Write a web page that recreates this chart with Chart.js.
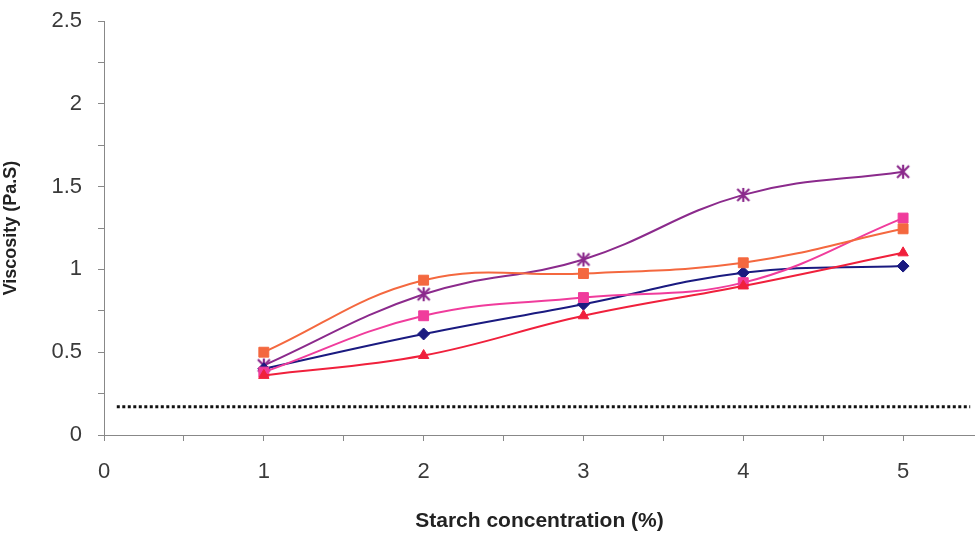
<!DOCTYPE html>
<html>
<head>
<meta charset="utf-8">
<script src="https://cdn.jsdelivr.net/npm/chart.js@4/dist/chart.umd.min.js"></script>
<style>
  html, body { margin: 0; padding: 0; background: #fff; }
  #wrap { width: 975px; height: 534px; }
</style>
</head>
<body>
<div id="wrap"><canvas id="grafica" width="975" height="534"></canvas></div>
<script>
// starch concentration (%)
const concentracion = [1, 2, 3, 4, 5];

// viscosity (Pa.S) for each series
const serieRombo = [0.40, 0.61, 0.79, 0.98, 1.02];
const serieCuadradoNaranja = [0.50, 0.935, 0.975, 1.04, 1.245];
const serieCuadradoRosa = [0.38, 0.72, 0.83, 0.92, 1.31];
const serieTriangulo = [0.36, 0.48, 0.72, 0.90, 1.10];
const serieEstrella = [0.42, 0.85, 1.06, 1.45, 1.59];

// dotted reference line
const referenciaX = [0.08, 5.42];
const referenciaY = [0.17, 0.17];

function aPuntos(xs, ys) {
    return xs.map((x, i) => ({ x: x, y: ys[i] }));
}

// asterisk marker like the spreadsheet one (X plus vertical bar)
function crearEstrella(color) {
    const c = document.createElement('canvas');
    c.width = 16;
    c.height = 16;
    const g = c.getContext('2d');
    g.strokeStyle = color;
    g.lineWidth = 2.2;
    g.beginPath();
    g.moveTo(2, 2); g.lineTo(14, 14);
    g.moveTo(14, 2); g.lineTo(2, 14);
    g.moveTo(8, 1); g.lineTo(8, 15);
    g.stroke();
    return c;
}

function serie(label, datos, color, estilo, radio) {
    return {
        label: label,
        data: aPuntos(concentracion, datos),
        borderColor: color,
        backgroundColor: color,
        borderWidth: 2,
        pointStyle: estilo,
        pointRadius: radio,
        pointBorderWidth: 1,
        tension: 0.4,
        fill: false
    };
}

const fuente = "'Liberation Sans', Arial, sans-serif";

new Chart(document.getElementById('grafica').getContext('2d'), {
    type: 'line',
    data: {
        datasets: [
            {
                label: 'Reference',
                data: aPuntos(referenciaX, referenciaY),
                borderColor: '#111',
                borderWidth: 3,
                borderDash: [3, 2.5],
                pointRadius: 0,
                fill: false
            },
            serie('Series 5', serieTriangulo, '#f0203c', 'triangle', 6),
            serie('Series 2', serieCuadradoNaranja, '#f4683f', 'rect', 7),
            serie('Series 3', serieCuadradoRosa, '#f03c9c', 'rect', 7),
            serie('Series 1', serieRombo, '#1a1a80', 'rectRot', 6),
            serie('Series 4', serieEstrella, '#8b2a8c', crearEstrella('#8b2a8c'), 8)
        ]
    },
    options: {
        responsive: false,
        animation: false,
        layout: { autoPadding: false, padding: { top: 21, right: 0, left: 0, bottom: 0 } },
        plugins: {
            legend: { display: false },
            tooltip: { enabled: false }
        },
        scales: {
            x: {
                type: 'linear',
                min: 0,
                max: 5.45,
                afterFit: function (scale) {
                    scale.height = 99;
                    scale.paddingLeft = 0;
                    scale.paddingRight = 0;
                },
                border: { color: '#888', width: 1 },
                grid: {
                    drawOnChartArea: false,
                    drawTicks: true,
                    tickLength: 6,
                    color: '#888'
                },
                ticks: {
                    stepSize: 0.5,
                    includeBounds: false,
                    autoSkip: false,
                    maxRotation: 0,
                    padding: 18,
                    color: '#3a3a3a',
                    font: { family: fuente, size: 22 },
                    callback: function (v) {
                        return Number.isInteger(v) ? String(v) : '';
                    }
                },
                title: {
                    display: true,
                    text: 'Starch concentration (%)',
                    color: '#222',
                    font: { family: fuente, size: 21, weight: 'bold' },
                    padding: { top: 8, bottom: 0 }
                }
            },
            y: {
                type: 'linear',
                min: 0,
                max: 2.5,
                afterFit: function (scale) {
                    scale.width = 104;
                    scale.paddingTop = 0;
                    scale.paddingBottom = 0;
                },
                border: { color: '#888', width: 1 },
                grid: {
                    drawOnChartArea: false,
                    drawTicks: true,
                    tickLength: 6,
                    color: '#888'
                },
                ticks: {
                    stepSize: 0.25,
                    autoSkip: false,
                    padding: 16,
                    color: '#3a3a3a',
                    font: { family: fuente, size: 22 },
                    callback: function (v) {
                        const r = Math.round(v * 100) / 100;
                        return (Math.round(r * 2) === r * 2) ? String(r) : '';
                    }
                },
                title: {
                    display: true,
                    text: 'Viscosity (Pa.S)',
                    color: '#222',
                    font: { family: fuente, size: 18, weight: 'bold' },
                    padding: { top: 0, bottom: 0 }
                }
            }
        }
    }
});
</script>
</body>
</html>
